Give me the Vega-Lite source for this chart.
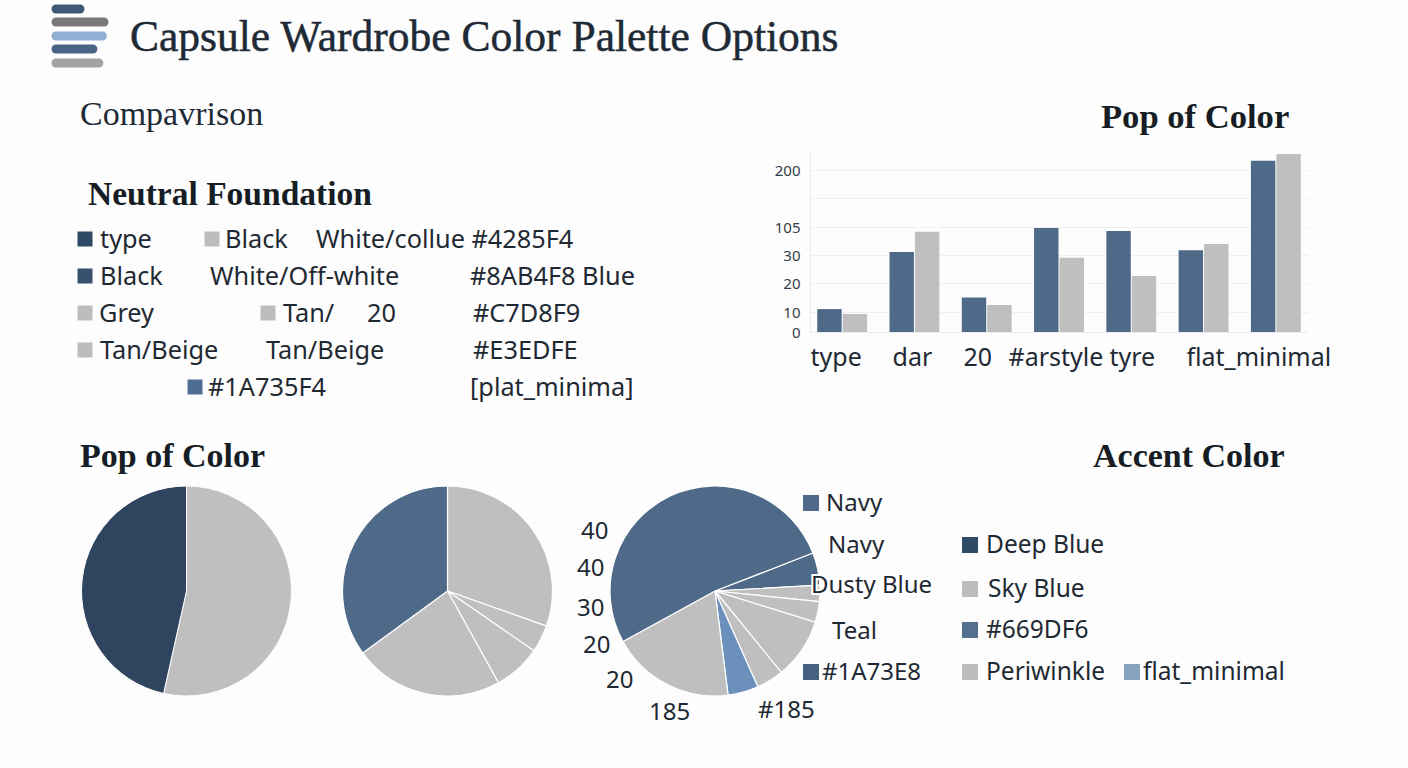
{
"$schema":"https://vega.github.io/schema/vega-lite/v6.json",
"padding":0,
"background":"#fdfdfd",
"spacing":0,
"resolve":{"scale":{"color":"independent"}},
"config":{"view":{"stroke":null},"text":{"align":"left","baseline":"middle"}},
"vconcat":[
{"bounds":"flush","spacing":0,"resolve":{"scale":{"color":"independent"}},"hconcat":[
 {"width":810,"height":430,
  "resolve":{"scale":{"x":"independent","y":"independent","color":"independent"}},
  "layer":[
  {"data":{"values":[{"bar":1,"length":28,"tone":"a"},{"bar":2,"length":56,"tone":"b"},{"bar":3,"length":54,"tone":"c"},{"bar":4,"length":43,"tone":"d"},{"bar":5,"length":50,"tone":"e"}]},
   "mark":{"type":"rule","strokeWidth":9,"strokeCap":"round"},
   "encoding":{"x":{"field":"length","type":"quantitative","axis":null,"scale":{"domain":[0,56],"range":[56,104],"nice":false}},
    "x2":{"datum":0},
    "y":{"field":"bar","type":"quantitative","axis":null,"scale":{"domain":[1,2,3,4,5],"range":[9,22,36,49,63],"zero":false,"nice":false}},
    "color":{"field":"tone","type":"nominal","legend":null,"scale":{"domain":["a","b","c","d","e"],"range":["#3f5a78","#7a7a7a","#8fb0d3","#4a6485","#a3a3a3"]}}}},
  {"data":{"values":[{"label":"Capsule Wardrobe Color Palette Options","col":1,"row":1}]},
   "mark":{"type":"text","font":"Liberation Serif","fontSize":43.5,"color":"#1e2a35","stroke":"#1e2a35","strokeWidth":0.5},
   "encoding":{"text":{"field":"label"},
    "x":{"field":"col","type":"quantitative","axis":null,"scale":{"domain":[0,1],"range":[0,130],"nice":false}},
    "y":{"field":"row","type":"quantitative","axis":null,"scale":{"domain":[0,1],"range":[0,38],"nice":false}}}},
  {"data":{"values":[{"label":"Compavrison","col":1,"row":1}]},
   "mark":{"type":"text","font":"Liberation Serif","fontSize":34,"color":"#1e2a35"},
   "encoding":{"text":{"field":"label"},
    "x":{"field":"col","type":"quantitative","axis":null,"scale":{"domain":[0,1],"range":[0,80],"nice":false}},
    "y":{"field":"row","type":"quantitative","axis":null,"scale":{"domain":[0,1],"range":[0,115],"nice":false}}}},
  {"data":{"values":[{"label":"Neutral Foundation","col":1,"row":1}]},
   "mark":{"type":"text","font":"Liberation Serif","fontSize":33.5,"fontWeight":"bold","color":"#161d24"},
   "encoding":{"text":{"field":"label"},
    "x":{"field":"col","type":"quantitative","axis":null,"scale":{"domain":[0,1],"range":[0,88],"nice":false}},
    "y":{"field":"row","type":"quantitative","axis":null,"scale":{"domain":[0,1],"range":[0,195],"nice":false}}}},
  {"data":{"values":[
    {"label":"type","col":2,"row":1},{"label":"Black","col":5,"row":1},{"label":"White/collue #4285F4","col":8,"row":1},
    {"label":"Black","col":2,"row":2},{"label":"White/Off-white","col":4,"row":2},{"label":"#8AB4F8 Blue","col":11,"row":2},
    {"label":"Grey","col":1,"row":3},{"label":"Tan/","col":7,"row":3},{"label":"20","col":9,"row":3},{"label":"#C7D8F9","col":12,"row":3},
    {"label":"Tan/Beige","col":2,"row":4},{"label":"Tan/Beige","col":6,"row":4},{"label":"#E3EDFE","col":12,"row":4},
    {"label":"#1A735F4","col":3,"row":5},{"label":"[plat_minima]","col":11,"row":5}]},
   "mark":{"type":"text","font":"Noto Sans","fontSize":25.3,"color":"#1f2933"},
   "encoding":{"text":{"field":"label"},
    "x":{"field":"col","type":"quantitative","axis":null,"scale":{"domain":[1,2,3,4,5,6,7,8,9,11,12],"range":[99,100,208,210,225,266,283,316,367,470,473],"nice":false,"zero":false}},
    "y":{"field":"row","type":"quantitative","axis":null,"scale":{"domain":[1,2,3,4,5],"range":[240,277,314,351,388],"nice":false,"zero":false}}}},
  {"data":{"values":[
    {"col":1,"row":1,"tone":"dark"},{"col":3,"row":1,"tone":"grey"},
    {"col":1,"row":2,"tone":"dark2"},
    {"col":1,"row":3,"tone":"grey"},{"col":4,"row":3,"tone":"grey"},
    {"col":1,"row":4,"tone":"grey"},
    {"col":2,"row":5,"tone":"slate"}]},
   "mark":{"type":"point","shape":"square","filled":true,"opacity":1,"size":225},
   "encoding":{
    "x":{"field":"col","type":"quantitative","axis":null,"scale":{"domain":[1,2,3,4],"range":[85,195,212,268],"nice":false,"zero":false}},
    "y":{"field":"row","type":"quantitative","axis":null,"scale":{"domain":[1,2,3,4,5],"range":[239,276,313,350,387],"nice":false,"zero":false}},
    "color":{"field":"tone","type":"nominal","legend":null,"scale":{"domain":["dark","dark2","grey","slate"],"range":["#2f4a66","#36506e","#bdbdbd","#4f6d93"]}}}}
  ]},
 {"bounds":"flush","spacing":0,"vconcat":[
  {"width":498,"height":150,
   "data":{"values":[{"label":"Pop of Color","col":1,"row":1}]},
   "mark":{"type":"text","font":"Liberation Serif","fontSize":34.6,"fontWeight":"bold","color":"#161d24"},
   "encoding":{"text":{"field":"label"},
    "x":{"field":"col","type":"quantitative","axis":null,"scale":{"domain":[0,1],"range":[0,291],"nice":false}},
    "y":{"field":"row","type":"quantitative","axis":null,"scale":{"domain":[0,1],"range":[0,118],"nice":false}}}},
  {"width":498,"height":182,
   "data":{"values":[
    {"group":"type","series":"A","value":11},{"group":"type","series":"B","value":9},
    {"group":"dar","series":"A","value":38},{"group":"dar","series":"B","value":92},
    {"group":"20","series":"A","value":15},{"group":"20","series":"B","value":12.4},
    {"group":"#arstyle","series":"A","value":102},{"group":"#arstyle","series":"B","value":29},
    {"group":"tyre","series":"A","value":94},{"group":"tyre","series":"B","value":22.5},
    {"group":" ","series":"A","value":43},{"group":" ","series":"B","value":59.5},
    {"group":"flat_minimal","series":"A","value":216},{"group":"flat_minimal","series":"B","value":228}]},
   "mark":{"type":"bar"},
   "encoding":{
    "x":{"field":"group","type":"nominal","sort":null,"scale":{"paddingInner":0.31,"paddingOuter":0.1},
     "axis":{"title":null,"ticks":false,"labelAngle":0,"labelFontSize":25,"labelFont":"Noto Sans","labelColor":"#1f2933","labelPadding":13,"domainColor":"#e8ecef","labelOverlap":false,"labelBound":false,"labelFlush":false,
      "labelOffset":{"expr":"datum.label==='type'?-6:datum.label==='dar'?-2:datum.label==='20'?-9:datum.label==='#arstyle'?-3:datum.label==='tyre'?1:datum.label==='flat_minimal'?-17:0"}}},
    "xOffset":{"field":"series","type":"nominal","scale":{"paddingInner":0.04,"paddingOuter":0}},
    "y":{"field":"value","type":"quantitative","scale":{"domain":[0,10,20,30,105,150,200,235],"range":[182,162,133,105,77,48,20,0],"nice":false},
     "axis":{"title":null,"values":[0,10,20,30,105,150,200],"labelExpr":"datum.value==150?'':datum.label","ticks":false,"labelFontSize":15,"labelFont":"Noto Sans","labelColor":"#333d47","labelPadding":10,"gridColor":"#eef1f4","domainColor":"#e8ecef"}},
    "color":{"field":"series","type":"nominal","legend":null,"scale":{"domain":["A","B"],"range":["#4f6a88","#bfbfbf"]}}}}
 ]}
]},
{"width":1408,"height":52,
 "data":{"values":[{"label":"Pop of Color","col":1},{"label":"Accent Color","col":2}]},
 "mark":{"type":"text","font":"Liberation Serif","fontSize":34,"fontWeight":"bold","color":"#161d24"},
 "encoding":{"text":{"field":"label"},
  "x":{"field":"col","type":"quantitative","axis":null,"scale":{"domain":[1,2],"range":[80,1093],"nice":false,"zero":false}},
  "y":{"datum":1,"type":"quantitative","axis":null,"scale":{"domain":[0,1],"range":[0,27],"nice":false}}}},
{"bounds":"flush","spacing":0,"resolve":{"scale":{"color":"independent"}},"hconcat":[
 {"width":373,"height":218,
  "data":{"values":[{"slice":"s1","ord":1,"value":53.5,"tone":"Grey"},{"slice":"s2","ord":2,"value":46.5,"tone":"Navy"}]},
  "mark":{"type":"arc","outerRadius":105,"stroke":"#ffffff","strokeWidth":1},
  "encoding":{"theta":{"field":"value","type":"quantitative","stack":true},"order":{"field":"ord"},
   "color":{"field":"tone","type":"nominal","legend":null,"scale":{"domain":["Navy","Grey"],"range":["#2f455f","#bfbfbf"]}}}},
 {"width":149,"height":218,
  "data":{"values":[{"slice":"s1","ord":1,"value":30.4,"tone":"Grey"},{"slice":"s2","ord":2,"value":4.2,"tone":"Grey"},{"slice":"s3","ord":3,"value":7.3,"tone":"Grey"},{"slice":"s4","ord":4,"value":23,"tone":"Grey"},{"slice":"s5","ord":5,"value":35,"tone":"Slate"}]},
  "mark":{"type":"arc","outerRadius":105,"stroke":"#ffffff","strokeWidth":1.2},
  "encoding":{"theta":{"field":"value","type":"quantitative","stack":true},"order":{"field":"ord"},
   "color":{"field":"tone","type":"nominal","legend":null,"scale":{"domain":["Slate","Grey"],"range":["#4f6a88","#bfbfbf"]}}}},
 {"width":386,"height":218,
  "resolve":{"scale":{"x":"independent","y":"independent","color":"independent"}},
  "layer":[
  {"data":{"values":[{"ord":1,"value":5,"tone":"Slate"},{"ord":2,"value":2.5,"tone":"Grey"},{"ord":3,"value":3.2,"tone":"Grey"},{"ord":4,"value":9.3,"tone":"Grey"},{"ord":5,"value":4.2,"tone":"Grey"},{"ord":6,"value":4.7,"tone":"Blue"},{"ord":7,"value":19,"tone":"Grey"},{"ord":8,"value":52.1,"tone":"Slate"}]},
   "mark":{"type":"arc","outerRadius":105,"stroke":"#ffffff","strokeWidth":1.2},
   "encoding":{"theta":{"field":"value","type":"quantitative","stack":true,"scale":{"domain":[0,100],"range":[1.2008,7.484]}},"order":{"field":"ord"},
    "color":{"field":"tone","type":"nominal","legend":null,"scale":{"domain":["Slate","Grey","Blue"],"range":["#4f6a88","#bfbfbf","#6b90bc"]}}}},
  {"data":{"values":[{"label":"Dusty Blue","col":1,"row":1}]},
   "mark":{"type":"text","font":"Noto Sans","fontSize":24,"stroke":"#ffffff","strokeWidth":4,"color":"#ffffff"},
   "encoding":{"text":{"field":"label"},
    "x":{"field":"col","type":"quantitative","axis":null,"scale":{"domain":[0,1],"range":[0,289],"nice":false}},
    "y":{"field":"row","type":"quantitative","axis":null,"scale":{"domain":[0,1],"range":[0,104],"nice":false}}}},
  {"data":{"values":[
    {"label":"Navy","col":9,"row":1},{"label":"40","col":2,"row":2},{"label":"40","col":1,"row":4},{"label":"Navy","col":10,"row":3},
    {"label":"30","col":1,"row":6},{"label":"Dusty Blue","col":7,"row":5},{"label":"20","col":3,"row":8},{"label":"Teal","col":11,"row":7},
    {"label":"#1A73E8","col":8,"row":9},{"label":"20","col":4,"row":10},{"label":"185","col":5,"row":12},{"label":"#185","col":6,"row":11}]},
   "mark":{"type":"text","font":"Noto Sans","fontSize":24,"color":"#1f2933"},
   "encoding":{"text":{"field":"label"},
    "x":{"field":"col","type":"quantitative","axis":null,"scale":{"domain":[1,2,3,4,5,6,7,8,9,10,11],"range":[55,59,61,84,127,236,289,300,304,306,310],"nice":false,"zero":false}},
    "y":{"field":"row","type":"quantitative","axis":null,"scale":{"domain":[1,2,3,4,5,6,7,8,9,10,11,12],"range":[22,50,64,87,104,127,150,164,191,199,229,231],"nice":false,"zero":false}}}},
  {"data":{"values":[{"row":1,"tone":"a"},{"row":2,"tone":"b"}]},
   "mark":{"type":"point","shape":"square","filled":true,"opacity":1,"size":256},
   "encoding":{
    "x":{"datum":1,"type":"quantitative","axis":null,"scale":{"domain":[0,1],"range":[0,289],"nice":false}},
    "y":{"field":"row","type":"quantitative","axis":null,"scale":{"domain":[1,2],"range":[21,190],"nice":false,"zero":false}},
    "color":{"field":"tone","type":"nominal","legend":null,"scale":{"domain":["a","b"],"range":["#50698a","#46617f"]}}}}
  ]
 },
 {"width":500,"height":218,
  "resolve":{"scale":{"x":"independent","y":"independent","color":"independent"}},
  "layer":[
  {"data":{"values":[{"label":"Deep Blue","col":1,"row":1},{"label":"Sky Blue","col":2,"row":2},{"label":"#669DF6","col":1,"row":3},{"label":"Periwinkle","col":1,"row":4},{"label":"flat_minimal","col":3,"row":4}]},
   "mark":{"type":"text","font":"Noto Sans","fontSize":24.5,"color":"#1f2933"},
   "encoding":{"text":{"field":"label"},
    "x":{"field":"col","type":"quantitative","axis":null,"scale":{"domain":[1,2,3],"range":[78,80,235],"nice":false,"zero":false}},
    "y":{"field":"row","type":"quantitative","axis":null,"scale":{"domain":[1,2,3,4],"range":[64,108,149,191],"nice":false,"zero":false}}}},
  {"data":{"values":[{"col":1,"row":1,"tone":"deep"},{"col":1,"row":2,"tone":"grey"},{"col":1,"row":3,"tone":"slate"},{"col":1,"row":4,"tone":"grey"},{"col":2,"row":4,"tone":"pale"}]},
   "mark":{"type":"point","shape":"square","filled":true,"opacity":1,"size":256},
   "encoding":{
    "x":{"field":"col","type":"quantitative","axis":null,"scale":{"domain":[1,2],"range":[62,224],"nice":false,"zero":false}},
    "y":{"field":"row","type":"quantitative","axis":null,"scale":{"domain":[1,2,3,4],"range":[63,107,148,190],"nice":false,"zero":false}},
    "color":{"field":"tone","type":"nominal","legend":null,"scale":{"domain":["deep","grey","slate","pale"],"range":["#2f4a66","#bdbdbd","#54708f","#88a3bf"]}}}}
  ]}
]},
{"width":1408,"height":44,"data":{"values":[]},"mark":{"type":"text"},"encoding":{}}
]}
